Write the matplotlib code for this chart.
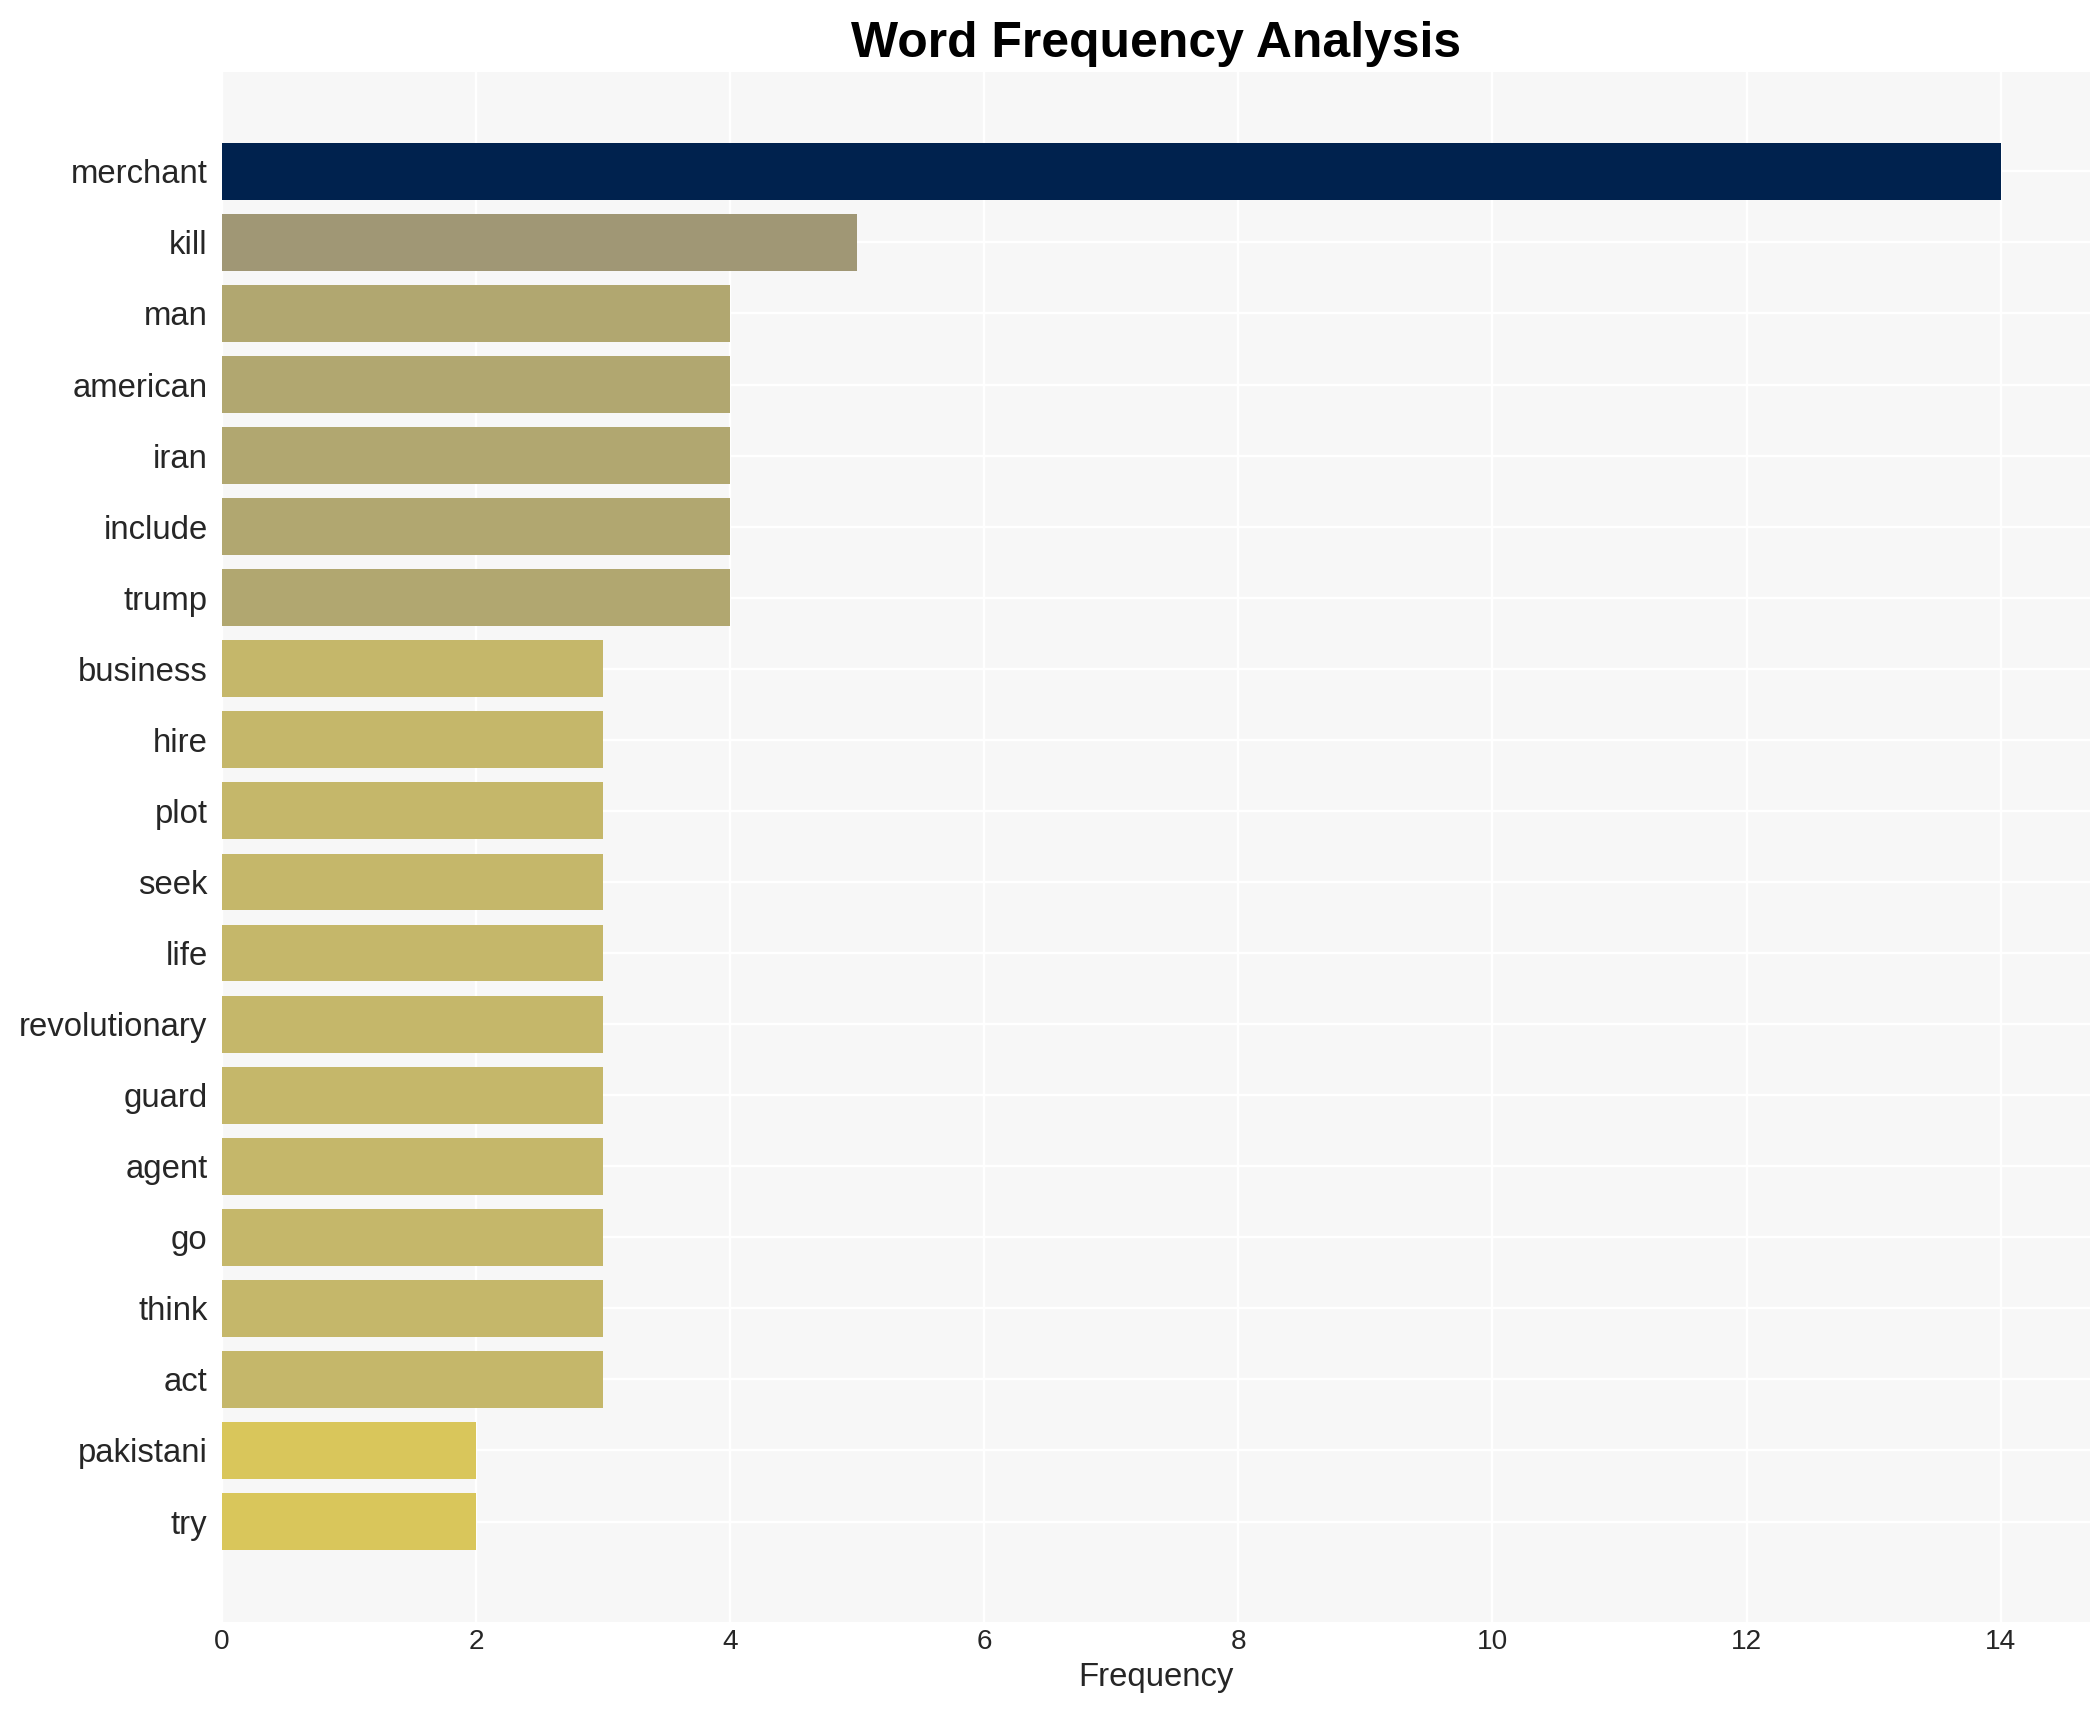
import matplotlib
matplotlib.use("Agg")
import matplotlib.pyplot as plt

words = ["merchant", "kill", "man", "american", "iran", "include", "trump",
         "business", "hire", "plot", "seek", "life", "revolutionary", "guard",
         "agent", "go", "think", "act", "pakistani", "try"]
freqs = [14, 5, 4, 4, 4, 4, 4, 3, 3, 3, 3, 3, 3, 3, 3, 3, 3, 3, 2, 2]
colors = ["#00224e", "#a09775", "#b1a770", "#b1a770", "#b1a770", "#b1a770",
          "#b1a770", "#c5b76a", "#c5b76a", "#c5b76a", "#c5b76a", "#c5b76a",
          "#c5b76a", "#c5b76a", "#c5b76a", "#c5b76a", "#c5b76a", "#c5b76a",
          "#d9c65b", "#d9c65b"]

plt.rcParams['font.family'] = ['Liberation Sans', 'DejaVu Sans']

fig = plt.figure(figsize=(12, 1710 / 175), dpi=175)
ax = fig.add_axes([0.1058, 0.0512, 0.995 - 0.1058, 0.958 - 0.0512])
ax.set_facecolor("#f7f7f7")

ypos = list(range(len(words)))
ax.barh(ypos, freqs, height=0.8, color=colors, zorder=2)
ax.set_yticks(ypos)
ax.set_yticklabels(words, fontsize=13.5, color="#262626")
ax.set_ylim(len(words) - 1 + 1.42, -1.4)
ax.set_xlim(0, 14.7)
ax.set_xticks(range(0, 15, 2))
ax.tick_params(axis='x', labelsize=11.5, colors="#262626", length=0, pad=2.5)
ax.tick_params(axis='y', length=0, pad=6)
ax.grid(True, color="white", linewidth=1.0, zorder=1)
ax.set_axisbelow(True)
for s in ax.spines.values():
    s.set_visible(False)
ax.set_xlabel("Frequency", fontsize=13.5, color="#262626", labelpad=3)
ax.set_title("Word Frequency Analysis", fontsize=20.5, fontweight="bold", pad=6)

fig.savefig("out.png", dpi=175, facecolor="white")
